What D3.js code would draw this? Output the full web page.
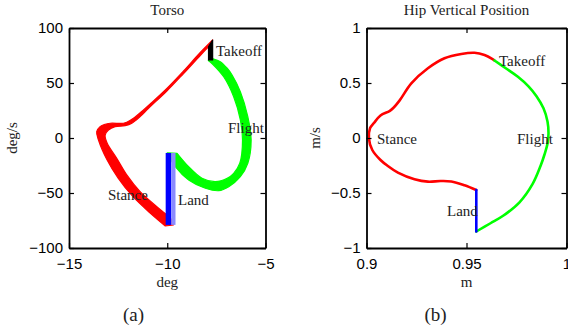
<!DOCTYPE html>
<html>
<head>
<meta charset="utf-8">
<script src="https://cdn.jsdelivr.net/npm/d3@7"></script>
<style>
  html, body { margin: 0; padding: 0; background: #fff; }
  svg { display: block; }
  .tick text { font-family: "Liberation Sans", Arial, Helvetica, sans-serif; font-size: 15px; fill: #000; }
  .lbl { font-family: "Liberation Serif", "Times New Roman", Times, serif; font-size: 15px; fill: #222; }
  .sub { font-family: "Liberation Serif", "Times New Roman", Times, serif; font-size: 19px; fill: #222; }
</style>
</head>
<body>
<svg id="chart" width="568" height="332"></svg>
<script>
// ---------- Torso phase portrait (deg, deg/s) ----------
// Stance: band of overlapping cycles, given by its two bounding trajectories
const stanceOuter = [
  [-10.10, -80.0], [-10.87, -68.2], [-11.73, -53.6], [-12.50, -36.4], [-13.06, -20.0],
  [-13.50, -1.8], [-13.59, 5.7], [-13.42, 10.3], [-13.16, 12.5], [-12.91, 13.4],
  [-12.23, 13.4], [-12.06, 14.3], [-11.72, 17.9], [-11.21, 25.5], [-10.87, 30.9],
  [-10.02, 45.0], [-9.17, 60.9], [-8.32, 77.7], [-7.69, 89.1]
];
const stanceInner = [
  [-9.69, -79.1], [-9.76, -74.5], [-10.53, -62.5], [-11.38, -48.8], [-12.06, -33.6],
  [-12.57, -18.5], [-13.06, -4.5], [-13.16, 2.7], [-12.99, 7.3], [-12.65, 10.3],
  [-12.14, 11.2], [-11.80, 13.4], [-11.38, 19.4], [-10.95, 27.0], [-10.02, 42.7],
  [-9.17, 58.6], [-8.32, 75.0], [-7.89, 83.0]
];
// Takeoff: vertical jumps at the end of stance
const takeoffLeft  = [[-7.90, 83.0], [-7.90, 71.0]];
const takeoffRight = [[-7.69, 89.1], [-7.69, 71.0]];
// Flight: band of overlapping cycles
const flightOuter = [
  [-7.67, 72.0], [-7.30, 69.4], [-6.95, 63.4], [-6.70, 57.3], [-6.28, 42.1],
  [-5.90, 19.4], [-5.73, -1.8], [-5.90, -23.0], [-6.28, -35.2], [-6.87, -44.3],
  [-7.38, -47.9], [-8.06, -45.7], [-8.91, -38.2], [-9.59, -26.1], [-10.00, -13.6]
];
const flightInner = [
  [-7.91, 70.5], [-7.70, 67.3], [-7.13, 55.7], [-6.62, 37.5], [-6.28, 16.4],
  [-6.17, -1.8], [-6.31, -23.0], [-6.62, -32.1], [-6.95, -36.6], [-7.55, -39.7],
  [-8.23, -36.6], [-8.91, -26.1], [-9.50, -13.9]
];
// Land: vertical impact jumps (angles of the dense and sparse strips, velocity span)
const landAngles = [-10.08, -9.80, -9.58];
const landSpan = [-13.6, -79.0];

const torsoXTicks = [-15, -10, -5];
const torsoYTicks = [-100, -50, 0, 50, 100];
const torsoNotes = [
  { text: "Takeoff", x: -7.52, y: 74.5 },
  { text: "Flight",  x: -6.91, y: 4.5 },
  { text: "Stance",  x: -13.02, y: -56.4 },
  { text: "Land",    x: -9.45, y: -60.9 }
];

// ---------- Hip vertical position (m, m/s) ----------
const hipStance = [
  [0.9549, -0.473], [0.9490, -0.430], [0.9424, -0.395], [0.9370, -0.391], [0.9307, -0.397],
  [0.9240, -0.375], [0.9157, -0.315], [0.9107, -0.255], [0.9070, -0.200], [0.9029, -0.109],
  [0.9012, -0.003], [0.9018, 0.091], [0.9037, 0.136], [0.9070, 0.205], [0.9115, 0.245],
  [0.9135, 0.275], [0.9165, 0.340], [0.9224, 0.497], [0.9307, 0.634], [0.9390, 0.725],
  [0.9474, 0.764], [0.9540, 0.775], [0.9590, 0.755], [0.9632, 0.715], [0.9640, 0.705]
];
const hipFlight = [
  [0.9640, 0.705], [0.9700, 0.630], [0.9757, 0.557], [0.9810, 0.470], [0.9850, 0.380],
  [0.9885, 0.270], [0.9905, 0.150], [0.9910, 0.040], [0.9905, -0.050], [0.9890, -0.150],
  [0.9870, -0.255], [0.9830, -0.420], [0.9765, -0.585], [0.9685, -0.705], [0.9620, -0.775],
  [0.9549, -0.850]
];
const hipLand = [[0.9549, -0.850], [0.9549, -0.473]];

const hipXTicks = [0.9, 0.95, 1];
const hipYTicks = [-1, -0.5, 0, 0.5, 1];
const hipNotes = [
  { text: "Takeoff", x: 0.96625, y: 0.655 },
  { text: "Stance",  x: 0.90525, y: -0.0545 },
  { text: "Flight",  x: 0.97525, y: -0.0545 },
  { text: "Land",    x: 0.94025, y: -0.709 }
];

const svg = d3.select("#chart");
const TICK = 5;

// Draws a MATLAB-style boxed axes with inward ticks on all four sides
function makeAxes(id, x, y, xTicks, yTicks) {
  const g = svg.append("g");
  const fmt = d3.format("~g");
  const [x0, x1] = x.range();
  const [y1, y0] = y.range();

  g.append("clipPath").attr("id", id)
    .append("rect").attr("x", x0).attr("y", y0).attr("width", x1 - x0).attr("height", y1 - y0);

  const plot = g.append("g").attr("clip-path", `url(#${id})`);

  const axes = [
    g.append("g").attr("transform", `translate(0,${y1})`)
      .call(d3.axisBottom(x).tickValues(xTicks).tickFormat(fmt).tickSizeInner(-TICK).tickSizeOuter(0).tickPadding(10)),
    g.append("g").attr("transform", `translate(0,${y0})`)
      .call(d3.axisTop(x).tickValues(xTicks).tickFormat("").tickSizeInner(-TICK).tickSizeOuter(0)),
    g.append("g").attr("transform", `translate(${x0},0)`)
      .call(d3.axisLeft(y).tickValues(yTicks).tickFormat(fmt).tickSizeInner(-TICK).tickSizeOuter(0).tickPadding(6)),
    g.append("g").attr("transform", `translate(${x1},0)`)
      .call(d3.axisRight(y).tickValues(yTicks).tickFormat("").tickSizeInner(-TICK).tickSizeOuter(0))
  ];
  axes.forEach(a => {
    a.select(".domain").attr("stroke", "#000").attr("stroke-width", 1.8);
    a.selectAll(".tick line").attr("stroke", "#000").attr("stroke-width", 1.2);
  });
  return { g, plot };
}

function lineGen(x, y) {
  return d3.line().x(d => x(d[0])).y(d => y(d[1])).curve(d3.curveCatmullRom.alpha(0.5));
}

// Filled region between two bounding trajectories
function band(plot, x, y, edgeA, edgeB, color) {
  const line = lineGen(x, y);
  const pA = line(edgeA);
  const pB = line(edgeB.slice().reverse());
  plot.append("path")
    .attr("d", pA + "L" + pB.slice(1) + "Z")
    .attr("fill", color).attr("stroke", color).attr("stroke-width", 1.2)
    .attr("stroke-linejoin", "round");
}

function notes(g, x, y, list) {
  g.selectAll(null).data(list).enter().append("text")
    .attr("class", "lbl")
    .attr("x", d => x(d.x)).attr("y", d => y(d.y))
    .text(d => d.text);
}

// ---------- Panel (a): Torso ----------
{
  const x = d3.scaleLinear().domain([-15, -5]).range([69, 265.5]);
  const y = d3.scaleLinear().domain([-100, 100]).range([248, 28]);
  const { g, plot } = makeAxes("clipA", x, y, torsoXTicks, torsoYTicks);

  band(plot, x, y, flightOuter, flightInner, "#00ff00");
  band(plot, x, y, stanceOuter, stanceInner, "#ff0000");

  // landing strips: dense (dark) and sparse (light)
  const landColors = ["#0000ff", "#8a8aff"];
  plot.selectAll(null).data(d3.pairs(landAngles)).enter().append("rect")
    .attr("x", d => x(d[0]))
    .attr("width", d => x(d[1]) - x(d[0]))
    .attr("y", y(landSpan[0]))
    .attr("height", y(landSpan[1]) - y(landSpan[0]))
    .attr("fill", (d, i) => landColors[i]);

  band(plot, x, y, takeoffLeft, takeoffRight, "#000");

  notes(g, x, y, torsoNotes);

  g.append("text").attr("class", "lbl").attr("text-anchor", "middle")
    .attr("x", (x.range()[0] + x.range()[1]) / 2).attr("y", 15).text("Torso");
  g.append("text").attr("class", "lbl").attr("text-anchor", "middle")
    .attr("x", (x.range()[0] + x.range()[1]) / 2).attr("y", 287).text("deg");
  g.append("text").attr("class", "lbl").attr("text-anchor", "middle")
    .attr("transform", "translate(17,138) rotate(-90)").text("deg/s");
  g.append("text").attr("class", "sub").attr("text-anchor", "middle")
    .attr("x", 133.5).attr("y", 321).text("(a)");
}

// ---------- Panel (b): Hip Vertical Position ----------
{
  const x = d3.scaleLinear().domain([0.9, 1]).range([366.5, 566.5]);
  const y = d3.scaleLinear().domain([-1, 1]).range([248, 28]);
  const { g, plot } = makeAxes("clipB", x, y, hipXTicks, hipYTicks);
  const line = lineGen(x, y);

  [[hipStance, "#ff0000"], [hipFlight, "#00ff00"], [hipLand, "#0000ff"]].forEach(([d, c]) => {
    plot.append("path").attr("d", line(d))
      .attr("fill", "none").attr("stroke", c).attr("stroke-width", 2.6)
      .attr("stroke-linejoin", "round").attr("stroke-linecap", "round");
  });

  notes(g, x, y, hipNotes);

  g.append("text").attr("class", "lbl").attr("text-anchor", "middle")
    .attr("x", (x.range()[0] + x.range()[1]) / 2).attr("y", 15).text("Hip Vertical Position");
  g.append("text").attr("class", "lbl").attr("text-anchor", "middle")
    .attr("x", (x.range()[0] + x.range()[1]) / 2).attr("y", 287).text("m");
  g.append("text").attr("class", "lbl").attr("text-anchor", "middle")
    .attr("transform", "translate(320,138) rotate(-90)").text("m/s");
  g.append("text").attr("class", "sub").attr("text-anchor", "middle")
    .attr("x", 435.5).attr("y", 321).text("(b)");
}
</script>
</body>
</html>
